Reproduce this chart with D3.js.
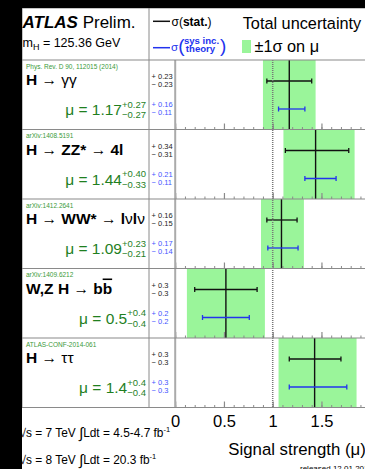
<!DOCTYPE html>
<html>
<head>
<meta charset="utf-8">
<script src="https://cdn.jsdelivr.net/npm/d3@7"></script>
<style>
  html, body { margin: 0; padding: 0; background: #000; }
  svg { display: block; font-family: "Liberation Sans", Arial, Helvetica, sans-serif; }
</style>
</head>
<body>
<div id="chart"></div>
<script>
// channel labels, references and measured signal strengths
const channels = ["H → γγ", "H → ZZ* → 4l", "H → WW* → lνlν", "W,Z H → bb\u0304", "H → ττ"];
const refs = ["Phys. Rev. D 90, 112015 (2014)", "arXiv:1408.5191", "arXiv:1412.2641", "arXiv:1409.6212", "ATLAS-CONF-2014-061"];
const mu = [1.17, 1.44, 1.09, 0.52, 1.43];
const totUp = [0.27, 0.40, 0.23, 0.40, 0.43];
const totDn = [0.27, 0.33, 0.21, 0.40, 0.37];
const statUp = [0.23, 0.34, 0.16, 0.32, 0.27];
const statDn = [0.23, 0.31, 0.15, 0.32, 0.26];
const sysUp = [0.16, 0.21, 0.17, 0.24, 0.33];
const sysDn = [0.11, 0.11, 0.14, 0.24, 0.26];
const decimals = [2, 2, 2, 1, 1];
const xTicks = [0, 0.5, 1, 1.5, 2];
const xLabels = [0, 0.5, 1, 1.5];
const energies = ["7", "8"];
const lumis = ["4.5-4.7", "20.3"];

const W = 365, H = 469;
const frameLeft = 22, frameTop = 8, colA = 149, colB = 175.2, headBottom = 60, plotBottom = 407.5;
const green = "#9af59a", muGreen = "#1f7f1f", refGreen = "#3a9a3a";
const blue = "#2233ee", lightBlue = "#4455ff", gridGray = "#8a8a8a";

const x = d3.scaleLinear().domain([0, 2]).range([colB, colB + 195]);
const y = d3.scaleBand().domain(d3.range(channels.length)).range([headBottom, plotBottom]).padding(0);
const bw = y.bandwidth();

const svg = d3.select("#chart").append("svg").attr("width", W).attr("height", H);
svg.append("rect").attr("x", frameLeft).attr("y", frameTop).attr("width", W - frameLeft).attr("height", H - frameTop).attr("fill", "#fff");

// panels
const panel = svg.selectAll("g.panel")
  .data(channels)
  .join("g")
  .attr("class", "panel")
  .attr("transform", (d, i) => `translate(0,${y(i)})`);

panel.append("rect")
  .attr("x", (d, i) => x(mu[i] - totDn[i]))
  .attr("width", (d, i) => x(mu[i] + totUp[i]) - x(mu[i] - totDn[i]))
  .attr("y", 0)
  .attr("height", bw)
  .attr("fill", green);

// ticks pointing up from the bottom of each panel
panel.append("g")
  .attr("transform", `translate(0,${bw})`)
  .call(d3.axisTop(x).ticks(20).tickSize(2.5).tickFormat(""))
  .call((g) => g.select(".domain").remove())
  .call((g) => g.selectAll("line").attr("stroke", gridGray));
panel.append("g")
  .attr("transform", `translate(0,${bw})`)
  .call(d3.axisTop(x).tickValues(xTicks).tickSize(6).tickFormat(""))
  .call((g) => g.select(".domain").remove())
  .call((g) => g.selectAll("line").attr("stroke", gridGray).attr("stroke-width", 1.2));

// SM line at mu = 1
svg.append("line")
  .attr("x1", x(1)).attr("x2", x(1))
  .attr("y1", headBottom).attr("y2", plotBottom)
  .attr("stroke", "#777").attr("stroke-width", 1.5).attr("stroke-dasharray", "1,1");

panel.append("line")
  .attr("x1", (d, i) => x(mu[i])).attr("x2", (d, i) => x(mu[i]))
  .attr("y1", 0).attr("y2", bw)
  .attr("stroke", "#111").attr("stroke-width", 1.4);

function errorBar(sel, yy, up, dn, color) {
  const g = sel.append("g").attr("stroke", color).attr("stroke-width", 1.3);
  g.append("line")
    .attr("x1", (d, i) => x(mu[i] - dn[i])).attr("x2", (d, i) => x(mu[i] + up[i]))
    .attr("y1", yy).attr("y2", yy);
  g.append("line")
    .attr("x1", (d, i) => x(mu[i] - dn[i])).attr("x2", (d, i) => x(mu[i] - dn[i]))
    .attr("y1", yy - 2.5).attr("y2", yy + 2.5);
  g.append("line")
    .attr("x1", (d, i) => x(mu[i] + up[i])).attr("x2", (d, i) => x(mu[i] + up[i]))
    .attr("y1", yy - 2.5).attr("y2", yy + 2.5);
}
errorBar(panel, 21, statUp, statDn, "#111");
errorBar(panel, 49, sysUp, sysDn, blue);

// grid lines and frame
const lines = svg.append("g").attr("stroke", gridGray);
lines.append("line").attr("x1", frameLeft).attr("x2", W).attr("y1", frameTop).attr("y2", frameTop);
lines.append("line").attr("x1", frameLeft).attr("x2", frameLeft).attr("y1", frameTop).attr("y2", plotBottom);
lines.append("line").attr("x1", colA).attr("x2", colA).attr("y1", frameTop).attr("y2", plotBottom);
lines.append("line").attr("x1", colB).attr("x2", colB).attr("y1", headBottom).attr("y2", plotBottom)
  .attr("stroke", "#aaa").attr("stroke-width", 2);
lines.selectAll("line.h")
  .data(d3.range(channels.length + 1))
  .join("line")
  .attr("class", "h")
  .attr("x1", frameLeft).attr("x2", W)
  .attr("y1", (i) => y(0) + i * bw).attr("y2", (i) => y(0) + i * bw)
  .attr("stroke-width", 1.2);

// reference and channel label
panel.append("text")
  .attr("x", 26).attr("y", 8.5)
  .attr("font-size", 6.5).attr("fill", refGreen)
  .text((d, i) => refs[i]);

panel.append("text")
  .attr("x", 26).attr("y", 25)
  .attr("font-size", 15.5)
  .each(function (d) {
    const t = d3.select(this);
    const chars = Array.from(d);
    for (let k = 0; k < chars.length; k++) {
      const c = chars[k];
      if (c === "\u0304") continue;
      const span = t.append("tspan").text(c);
      if (c === "→") span.attr("font-weight", "normal");
      else if (/[γντ]/.test(c)) span.attr("font-weight", "normal");
      else span.attr("font-weight", "bold");
      if (chars[k + 1] === "\u0304") span.style("text-decoration", "overline");
    }
  });

// mu value with asymmetric errors
panel.each(function (d, i) {
  const g = d3.select(this).append("g").attr("fill", muGreen);
  const d0 = decimals[i];
  const sup = g.append("text").attr("y", 47.5).attr("font-size", 9.5).text("+" + totUp[i].toFixed(d0));
  const sub = g.append("text").attr("y", 58).attr("font-size", 9.5).text("−" + totDn[i].toFixed(d0));
  const w = Math.max(sup.node().getComputedTextLength(), sub.node().getComputedTextLength());
  const sx = 146 - w;
  sup.attr("x", sx);
  sub.attr("x", sx);
  g.append("text").attr("x", sx).attr("y", 55).attr("font-size", 15.5)
    .attr("text-anchor", "end")
    .text("μ = " + mu[i].toFixed(d0));
});

// stat / sys numbers column
function numbers(sel, y1, y2, up, dn, color) {
  const g = sel.append("g").attr("fill", color).attr("font-size", 7.5);
  g.append("text").attr("x", 151.5).attr("y", y1).text((d, i) => "+ " + up[i].toFixed(decimals[i]));
  g.append("text").attr("x", 151.5).attr("y", y2).text((d, i) => "− " + dn[i].toFixed(decimals[i]));
}
numbers(panel, 19, 27.4, statUp, statDn, "#222");
numbers(panel, 47, 55.2, sysUp, sysDn, lightBlue);

// header
const head = svg.append("g");
const atlas = head.append("text").attr("x", 22.5).attr("y", 27.5).attr("font-size", 17);
atlas.append("tspan").attr("font-weight", "bold").attr("font-style", "italic").text("ATLAS");
atlas.append("tspan").text(" Prelim.");
const mh = head.append("text").attr("x", 22.5).attr("y", 47).attr("font-size", 12.5);
mh.append("tspan").text("m");
mh.append("tspan").attr("font-size", 9).attr("dy", 3).text("H");
mh.append("tspan").attr("dy", -3).text(" = 125.36 GeV");

head.append("line").attr("x1", 153).attr("x2", 170).attr("y1", 21.3).attr("y2", 21.3)
  .attr("stroke", "#111").attr("stroke-width", 1.5);
const st = head.append("text").attr("x", 171.5).attr("y", 25.5).attr("font-size", 12);
st.append("tspan").text("σ(");
st.append("tspan").attr("font-weight", "bold").text("stat.");
st.append("tspan").text(")");

head.append("line").attr("x1", 153).attr("x2", 170).attr("y1", 47.7).attr("y2", 47.7)
  .attr("stroke", blue).attr("stroke-width", 1.5);
head.append("text").attr("x", 171).attr("y", 51).attr("font-size", 11.5).attr("fill", blue).text("σ");
head.append("text").attr("x", 178.3).attr("y", 52).attr("font-size", 19).attr("fill", blue).text("(");
head.append("text").attr("x", 220).attr("y", 52).attr("font-size", 19).attr("fill", blue).text(")");
head.append("text").attr("x", 201.5).attr("y", 43.5).attr("font-size", 9.6).attr("font-weight", "bold")
  .attr("text-anchor", "middle").attr("fill", blue).text("sys inc.");
head.append("text").attr("x", 200.5).attr("y", 52).attr("font-size", 9.6).attr("font-weight", "bold")
  .attr("text-anchor", "middle").attr("fill", blue).text("theory");

head.append("text").attr("x", 242.7).attr("y", 28.5).attr("font-size", 16.3).text("Total uncertainty");
head.append("rect").attr("x", 242).attr("y", 40).attr("width", 9).attr("height", 13).attr("fill", green);
head.append("text").attr("x", 254.5).attr("y", 52).attr("font-size", 16.3).text("±1σ on μ");

// bottom axis labels
svg.append("g")
  .attr("transform", `translate(0,${plotBottom})`)
  .call(d3.axisBottom(x).tickValues(xLabels).tickSize(0).tickPadding(8).tickFormat(d3.format("~g")))
  .call((g) => g.select(".domain").remove())
  .call((g) => g.selectAll("text").attr("font-size", 16.5).attr("fill", "#000")
    .attr("font-family", "Liberation Sans, Arial, sans-serif"));

svg.append("text").attr("x", 228.3).attr("y", 454.5).attr("font-size", 16.8).text("Signal strength (μ)");
svg.append("text").attr("x", 300).attr("y", 470.5).attr("font-size", 8).text("released 12.01.2015");

energies.forEach((e, i) => {
  const t = svg.append("text").attr("x", 19.5).attr("y", 437 + i * 26.5).attr("font-size", 11.9);
  t.append("tspan").text(`√s = ${e} TeV `);
  t.append("tspan").attr("font-size", 15).attr("dy", 1).text("∫");
  t.append("tspan").attr("dy", -1).text(`Ldt = ${lumis[i]} fb`);
  t.append("tspan").attr("font-size", 7.5).attr("dy", -5).text("-1");
});

// black crop bands
svg.append("rect").attr("x", 0).attr("y", 0).attr("width", frameLeft).attr("height", H).attr("fill", "#000");
svg.append("rect").attr("x", 0).attr("y", 0).attr("width", W).attr("height", frameTop).attr("fill", "#000");
</script>
</body>
</html>
